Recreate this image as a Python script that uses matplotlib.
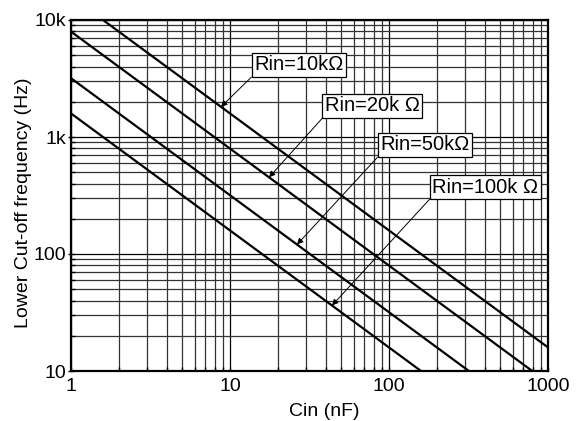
import numpy as np
import matplotlib
matplotlib.use("Agg")
import matplotlib.pyplot as plt
from matplotlib.ticker import FixedLocator, LogLocator, NullFormatter

plt.rcParams['font.family'] = ['Liberation Sans', 'DejaVu Sans']

# Data: straight log-log lines given by end points
series_labels = ["Rin=10kΩ", "Rin=20k Ω", "Rin=50kΩ", "Rin=100k Ω"]
cin_start = [1.59, 1.0, 1.0, 1.0]          # nF
f_start = [10000, 7960, 3180, 1590]       # Hz
cin_end = [1000, 796, 318, 159]           # nF
f_end = [15.9, 10, 10, 10]                # Hz

# Where each label's arrow touches its line (Cin, nF)
arrow_cin = [8.78, 17.6, 26.4, 43.8]

x_ticks = [1, 10, 100, 1000]
x_ticklabels = ["1", "10", "100", "1000"]
y_ticks = [10, 100, 1000, 10000]
y_ticklabels = ["10", "100", "1k", "10k"]

# label text positions (axes fraction)
label_pos = [(0.384, 0.845), (0.532, 0.728), (0.648, 0.617), (0.757, 0.497)]

fs = 14
fig = plt.figure(figsize=(5.76, 4.21), dpi=100)
ax = fig.add_axes([71/576, 1-371/421, 477/576, 351/421])
ax.set_xscale('log')
ax.set_yscale('log')
ax.set_xlim(1, 1000)
ax.set_ylim(10, 10000)

ax.xaxis.set_major_locator(FixedLocator(x_ticks))
ax.yaxis.set_major_locator(FixedLocator(y_ticks))
ax.xaxis.set_minor_locator(LogLocator(base=10, subs=np.arange(2, 10)))
ax.yaxis.set_minor_locator(LogLocator(base=10, subs=np.arange(2, 10)))
ax.xaxis.set_minor_formatter(NullFormatter())
ax.yaxis.set_minor_formatter(NullFormatter())
ax.set_xticklabels(x_ticklabels, fontsize=fs)
ax.set_yticklabels(y_ticklabels, fontsize=fs)

ax.grid(True, which='major', color='black', lw=0.9)
ax.grid(True, which='minor', color='#333333', lw=0.9)
ax.set_axisbelow(True)

ax.tick_params(which='both', direction='in', length=3, width=1.0)
ax.tick_params(axis='x', which='major', pad=5)
ax.tick_params(axis='y', which='major', direction='inout', length=5, pad=1)
for s in ax.spines.values():
    s.set_linewidth(1.6)

for xs, ys, xe, ye in zip(cin_start, f_start, cin_end, f_end):
    ax.plot([xs, xe], [ys, ye], color='black', lw=1.6, solid_capstyle='butt', zorder=3)

for i, lab in enumerate(series_labels):
    lx = np.log10([cin_start[i], cin_end[i]])
    ly = np.log10([f_start[i], f_end[i]])
    ax_ = np.log10(arrow_cin[i])
    ay = 10 ** np.interp(ax_, lx, ly)
    ax.annotate(lab, xy=(arrow_cin[i], ay), xytext=label_pos[i], textcoords='axes fraction',
                ha='left', va='bottom', fontsize=fs + 0.5, zorder=5,
                bbox=dict(boxstyle='square,pad=0.12', fc='white', ec='black', lw=0.9),
                arrowprops=dict(arrowstyle='-|>', color='black', lw=0.7, shrinkA=0, shrinkB=0,
                                mutation_scale=9, relpos=(0, 0)))

ax.set_xlabel("Cin (nF)", fontsize=fs)
ax.xaxis.set_label_coords(0.53, -0.09)
fig.text(24/576, 1-203/421, "Lower Cut-off frequency (Hz)", rotation=90, fontsize=fs,
         ha='center', va='center')

fig.savefig("out.png", dpi=100)
